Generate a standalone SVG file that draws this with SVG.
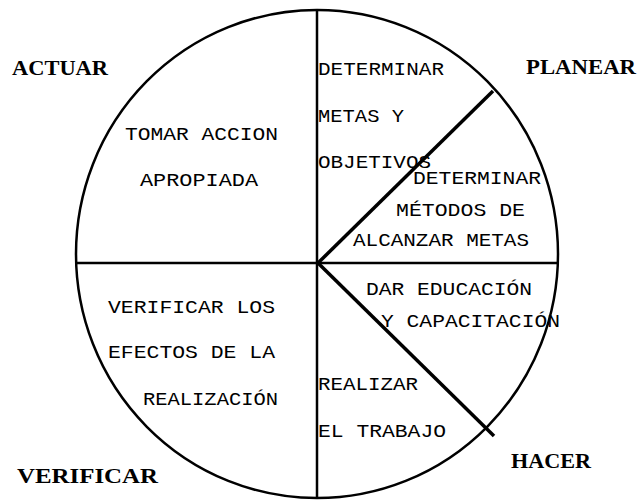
<svg xmlns="http://www.w3.org/2000/svg" width="638" height="500" viewBox="0 0 638 500">
<style>
.t{font-family:"Liberation Mono","DejaVu Sans Mono",monospace;font-size:19px;fill:#000;}
.b{font-family:"Liberation Serif","DejaVu Serif",serif;font-size:20px;font-weight:bold;fill:#000;}
.ln{stroke:#000;stroke-width:2.5;fill:none;}
.dg{stroke:#000;stroke-width:3.5;fill:none;}
</style>
<rect width="638" height="500" fill="#fff"/>
<g id="circle">
<ellipse cx="317" cy="254" rx="241" ry="244" class="ln"/>
</g>
<g id="connectors">
<line x1="317" y1="10" x2="317" y2="498" class="ln"/>
<line x1="76" y1="263" x2="558" y2="263" class="ln"/>
<line x1="318" y1="263" x2="493" y2="91" class="dg"/>
<line x1="318" y1="263" x2="494" y2="436" class="dg"/>
</g>
<g id="actuar">
<text class="b" x="12" y="75" textLength="96" lengthAdjust="spacingAndGlyphs">ACTUAR</text>
<text class="t" x="125" y="140" textLength="153" lengthAdjust="spacingAndGlyphs">TOMAR ACCION</text>
<text class="t" x="140" y="186" textLength="118" lengthAdjust="spacingAndGlyphs">APROPIADA</text>
</g>
<g id="planear">
<text class="b" x="526" y="74" textLength="110" lengthAdjust="spacingAndGlyphs">PLANEAR</text>
<text class="t" x="318" y="75" textLength="126" lengthAdjust="spacingAndGlyphs">DETERMINAR</text>
<text class="t" x="318" y="122" textLength="86" lengthAdjust="spacingAndGlyphs">METAS Y</text>
<text class="t" x="318" y="168" textLength="113" lengthAdjust="spacingAndGlyphs">OBJETIVOS</text>
<text class="t" x="413" y="184" textLength="128" lengthAdjust="spacingAndGlyphs">DETERMINAR</text>
<text class="t" x="396" y="216" textLength="129" lengthAdjust="spacingAndGlyphs">MÉTODOS DE</text>
<text class="t" x="353" y="246" textLength="176" lengthAdjust="spacingAndGlyphs">ALCANZAR METAS</text>
</g>
<g id="hacer">
<text class="b" x="511" y="468" textLength="80" lengthAdjust="spacingAndGlyphs">HACER</text>
<text class="t" x="366" y="295" textLength="166" lengthAdjust="spacingAndGlyphs">DAR EDUCACIÓN</text>
<text class="t" x="381" y="327" textLength="179" lengthAdjust="spacingAndGlyphs">Y CAPACITACIÓN</text>
<text class="t" x="318" y="390" textLength="100" lengthAdjust="spacingAndGlyphs">REALIZAR</text>
<text class="t" x="318" y="437" textLength="128" lengthAdjust="spacingAndGlyphs">EL TRABAJO</text>
</g>
<g id="verificar">
<text class="b" x="17" y="483" textLength="141" lengthAdjust="spacingAndGlyphs">VERIFICAR</text>
<text class="t" x="108" y="313" textLength="167" lengthAdjust="spacingAndGlyphs">VERIFICAR LOS</text>
<text class="t" x="108" y="358" textLength="167" lengthAdjust="spacingAndGlyphs">EFECTOS DE LA</text>
<text class="t" x="143" y="405" textLength="135" lengthAdjust="spacingAndGlyphs">REALIZACIÓN</text>
</g>
</svg>
